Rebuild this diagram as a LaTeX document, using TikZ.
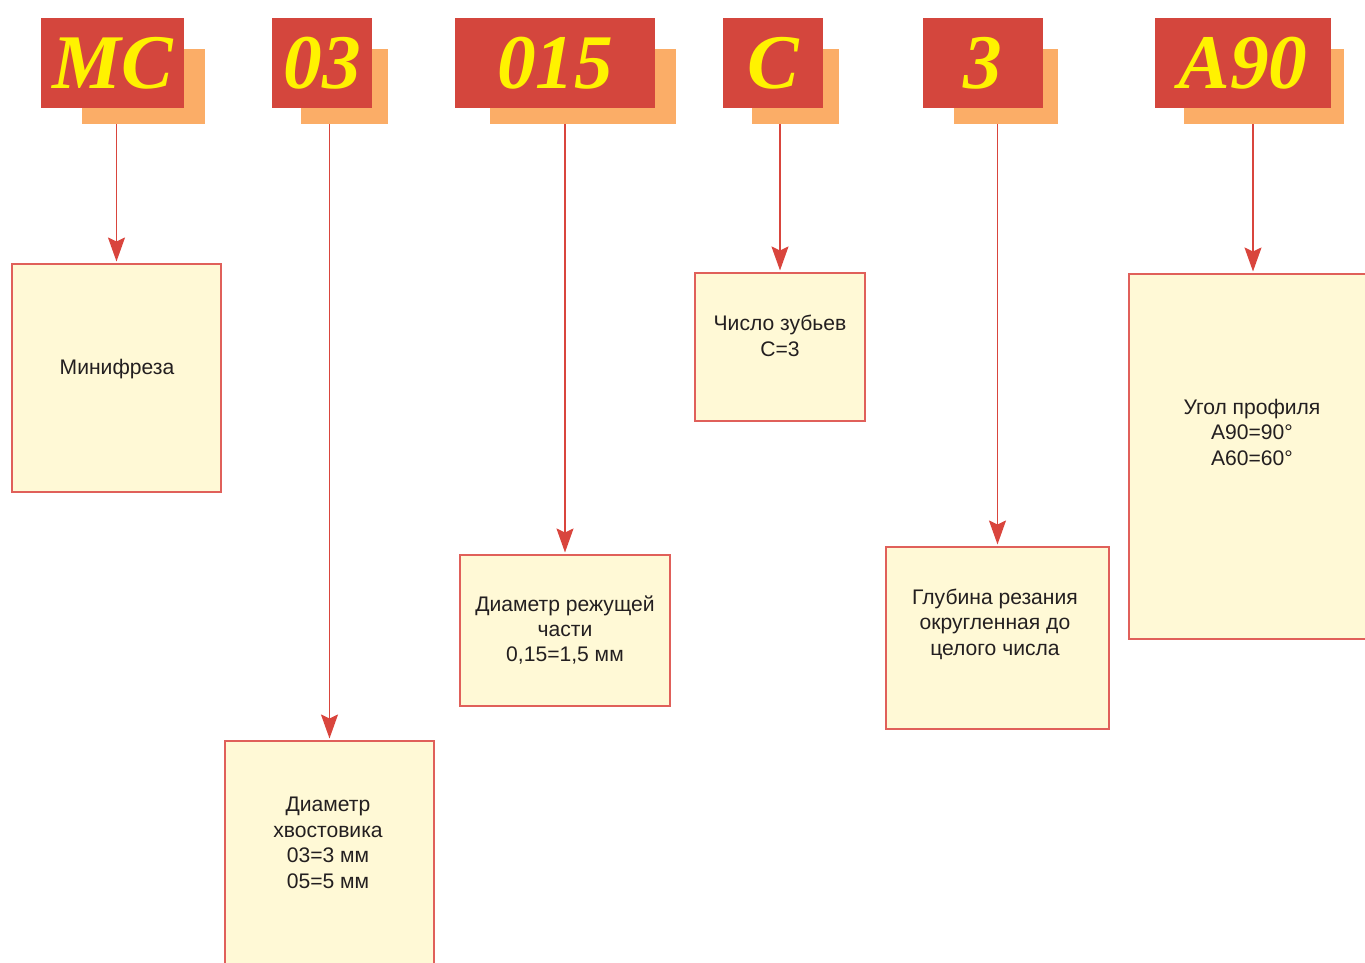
\documentclass[tikz,border=0pt]{standalone}
\usepackage{fontspec}
\setmainfont{Liberation Sans}
\newfontfamily\codefont{Liberation Serif}
\usetikzlibrary{arrows.meta,positioning}

\definecolor{codered}{HTML}{D4463D}
\definecolor{codeyellow}{HTML}{FFF200}
\definecolor{shadoworange}{HTML}{FBAD67}
\definecolor{boxfill}{HTML}{FFF9D6}
\definecolor{boxline}{HTML}{E0605A}
\definecolor{arrowred}{HTML}{D9453D}
\definecolor{textgray}{HTML}{231F20}

\begin{document}
\begin{tikzpicture}[x=0.2mm,y=-0.2mm,
  shadow/.style={fill=shadoworange, inner sep=0pt},
  code/.style={fill=codered, inner sep=0pt, text=codeyellow,
    font=\codefont\bfseries\itshape\fontsize{44}{44}\selectfont},
  infobox/.style={draw=boxline, line width=0.6pt, fill=boxfill, inner sep=0pt},
  info/.style={align=center, text=textgray, font=\fontsize{12}{14.5}\selectfont},
  arr/.style={draw=arrowred, line width=0.9pt,
    -{Stealth[length=4.8mm,width=3.4mm,inset=0.8mm]}, shorten >=0.4mm}]
\useasboundingbox (0,0) rectangle (1365,962);
\clip (0,0) rectangle (1365,962);

% Code parts: shadow first, then red plate
\node[shadow, minimum width={123*0.2mm}, minimum height={75*0.2mm}] (mcs) at (143.5,86.5) {};
\node[code, minimum width={143*0.2mm}, minimum height={90*0.2mm}] (mc) at (112.5,63) {MC};

\node[shadow, minimum width={87*0.2mm}, minimum height={75*0.2mm}] (dss) at (344.5,86.5) {};
\node[code, minimum width={100*0.2mm}, minimum height={90*0.2mm}] (ds) at (322,63) {03};

\node[shadow, minimum width={186*0.2mm}, minimum height={75*0.2mm}] (dcs) at (583,86.5) {};
\node[code, minimum width={200*0.2mm}, minimum height={90*0.2mm}] (dc) at (555,63) {015};

\node[shadow, minimum width={87*0.2mm}, minimum height={75*0.2mm}] (zs) at (795.5,86.5) {};
\node[code, minimum width={100*0.2mm}, minimum height={90*0.2mm}] (z) at (773,63) {C};

\node[shadow, minimum width={104*0.2mm}, minimum height={75*0.2mm}] (gs) at (1006,86.5) {};
\node[code, minimum width={120*0.2mm}, minimum height={90*0.2mm}] (g) at (983,63) {3};

\node[shadow, minimum width={160*0.2mm}, minimum height={75*0.2mm}] (as) at (1264,86.5) {};
\node[code, minimum width={176*0.2mm}, minimum height={90*0.2mm}] (a) at (1243,63) {A90};

% Explanation boxes
\node[infobox, minimum width={209*0.2mm}, minimum height={228*0.2mm}] (b1) at (116.5,378) {};
\node[info] (t1) at (117,369) {Минифреза};

\node[infobox, minimum width={209*0.2mm}, minimum height={259*0.2mm}] (b2) at (329.5,870.5) {};
\node[info] (t2) at (328,843) {Диаметр\\хвостовика\\03=3 мм\\05=5 мм};

\node[infobox, minimum width={210*0.2mm}, minimum height={151*0.2mm}] (b3) at (565,630.5) {};
\node[info] (t3) at (565,630) {Диаметр режущей\\части\\0,15=1,5 мм};

\node[infobox, minimum width={170*0.2mm}, minimum height={148*0.2mm}] (b4) at (780,347) {};
\node[info] (t4) at (780,336) {Число зубьев\\C=3};

\node[infobox, minimum width={223*0.2mm}, minimum height={182*0.2mm}] (b5) at (997.5,638) {};
\node[info] (t5) at (995,624) {Глубина резания\\округленная до\\целого числа};

\node[infobox, minimum width={248*0.2mm}, minimum height={365*0.2mm}] (b6) at (1253,456.5) {};
\node[info] (t6) at (1252,432) {Угол профиля\\A90=90°\\A60=60°};

% Arrows
\draw[arr] (mcs.south -| b1.north) -- (b1.north);
\draw[arr] (dss.south -| b2.north) -- (b2.north);
\draw[arr] (dcs.south -| b3.north) -- (b3.north);
\draw[arr] (zs.south -| b4.north) -- (b4.north);
\draw[arr] (gs.south -| b5.north) -- (b5.north);
\draw[arr] (as.south -| b6.north) -- (b6.north);
\end{tikzpicture}
\end{document}
